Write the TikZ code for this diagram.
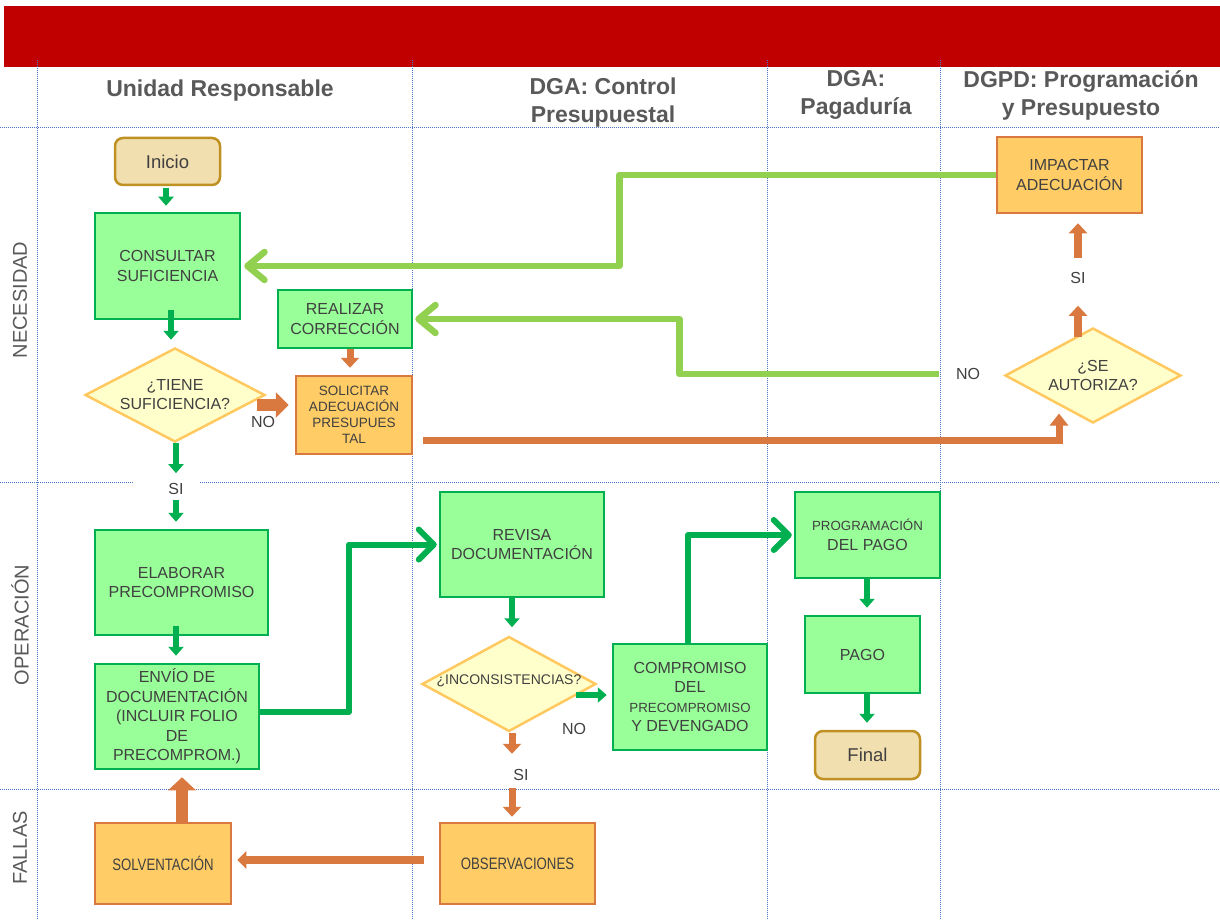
\documentclass[tikz,border=0pt]{standalone}
\usepackage{fontspec}
\setmainfont{Liberation Sans}
\usetikzlibrary{arrows.meta,shapes.geometric}
\definecolor{redbar}{HTML}{C00000}
\definecolor{gridblue}{HTML}{4A74C0}
\definecolor{gfill}{HTML}{99FF99}
\definecolor{gborder}{HTML}{00B050}
\definecolor{ofill}{HTML}{FFCC66}
\definecolor{oborder}{HTML}{D9793F}
\definecolor{dfill}{HTML}{FFFFCC}
\definecolor{dborder}{HTML}{FFC960}
\definecolor{tfill}{HTML}{F2DFB0}
\definecolor{tborder}{HTML}{BF9022}
\definecolor{lgreen}{HTML}{92D050}
\definecolor{tgray}{HTML}{404040}
\definecolor{hgray}{HTML}{595959}
\begin{document}
\begin{tikzpicture}[x=1pt,y=-1pt,
  bx/.style={draw, line width=2.5pt, align=center, text=tgray, inner sep=2pt},
  gbx/.style={bx, draw=gborder, fill=gfill},
  obx/.style={bx, draw=oborder, fill=ofill},
  tbx/.style={bx, draw=tborder, fill=tfill, rounded corners=8pt},
  dec/.style={diamond, draw=dborder, fill=dfill, line width=2.5pt, inner sep=0pt},
  dtxt/.style={align=center, text=tgray, inner sep=0pt},
  f15/.style={font=\fontsize{16}{19.5}\selectfont},
  garr/.style={draw=gborder, line width=6pt, -{Triangle[width=15pt,length=9pt]}},
  gbig/.style={draw=gborder, line width=6pt, line join=round, -{Straight Barb[round,length=15pt,width=30pt]}},
  lbig/.style={draw=lgreen, line width=6.5pt, line join=round, -{Straight Barb[round,length=17pt,width=28pt]}},
  oarr/.style={draw=oborder, line width=7pt, -{Triangle[width=18pt,length=10pt]}},
  lbl/.style={text=tgray, inner sep=0pt, font=\fontsize{16}{18}\selectfont},
  hdr/.style={text=hgray, align=center, font=\fontsize{23}{28}\selectfont\bfseries},
  lane/.style={text=hgray, rotate=90, font=\fontsize{20}{22}\selectfont},
  lanesep/.style={draw=gridblue, line width=0.9pt, dash pattern=on 1pt off 1pt}]
\useasboundingbox (0,0) rectangle (1220,920);
\fill[white] (0,0) rectangle (1220,920);
% red header bar
\fill[redbar] (4,6) rectangle (1220,67);
% lane separators
\draw[lanesep] (37,60) -- (37,920);
\draw[lanesep] (412,60) -- (412,920);
\draw[lanesep] (767,60) -- (767,920);
\draw[lanesep] (940,60) -- (940,920);
\draw[lanesep] (0,127) -- (1220,127);
\draw[lanesep] (0,482) -- (133,482);
\draw[lanesep] (200,482) -- (1220,482);
\draw[lanesep] (0,789) -- (1220,789);
% headers
\node[hdr] (h1) at (220,91) {Unidad Responsable};
\node[hdr] (h2) at (603,103) {DGA: Control\\Presupuestal};
\node[hdr] (h3) at (856,95) {DGA:\\Pagaduría};
\node[hdr] (h4) at (1081,95) {DGPD: Programación\\y Presupuesto};
\node[lane] (l1) at (20,300) {NECESIDAD};
\node[lane] (l2) at (20,625) {OPERACIÓN};
\node[lane] (l3) at (20,848) {FALLAS};
% nodes
\node[tbx, minimum width=105pt, minimum height=47pt, font=\fontsize{18.5}{20}\selectfont] (inicio) at (167.5,161.5) {Inicio};
\node[gbx, f15, minimum width=145pt, minimum height=106pt] (cons) at (167.5,266) {CONSULTAR\\SUFICIENCIA};
\node[dec, minimum width=180pt, minimum height=94pt,
  label={[dtxt, font=\fontsize{16}{19}\selectfont]center:{¿TIENE\\SUFICIENCIA?}}] (tiene) at (175,395) {};
\node[gbx, f15, minimum width=134pt, minimum height=58pt] (realizar) at (345,319) {REALIZAR\\CORRECCIÓN};
\node[obx, minimum width=116pt, minimum height=78pt, font=\fontsize{13.5}{16}\selectfont] (solic) at (354,415) {SOLICITAR\\ADECUACIÓN\\PRESUPUES\\TAL};
\node[obx, f15, minimum width=145pt, minimum height=76pt] (impactar) at (1069.5,175) {IMPACTAR\\ADECUACIÓN};
\node[dec, minimum width=176pt, minimum height=95pt,
  label={[dtxt, font=\fontsize{16}{19}\selectfont]center:{¿SE\\AUTORIZA?}}] (autoriza) at (1093,375.5) {};
\node[gbx, f15, minimum width=173pt, minimum height=105pt] (elab) at (181.5,582.5) {ELABORAR\\PRECOMPROMISO};
\node[gbx, f15, minimum width=164pt, minimum height=105pt] (envio) at (177,716.5) {ENVÍO DE\\DOCUMENTACIÓN\\(INCLUIR FOLIO\\DE\\PRECOMPROM.)};
\node[gbx, f15, minimum width=164pt, minimum height=105pt] (revisa) at (522,544.5) {REVISA\\DOCUMENTACIÓN};
\node[dec, minimum width=174pt, minimum height=95pt,
  label={[dtxt, font=\fontsize{14}{16}\selectfont, yshift=3pt]center:{¿INCONSISTENCIAS?}}] (incons) at (509,684) {};
\node[gbx, f15, minimum width=154pt, minimum height=106pt] (comp) at (690,697) {COMPROMISO\\DEL\\{\fontsize{13.3}{19}\selectfont PRECOMPROMISO}\\Y DEVENGADO};
\node[gbx, f15, minimum width=145pt, minimum height=86pt] (prog) at (867.5,535) {{\fontsize{13.3}{19}\selectfont PROGRAMACIÓN}\\DEL PAGO};
\node[gbx, f15, minimum width=115pt, minimum height=77pt] (pago) at (862.5,654.5) {PAGO};
\node[tbx, minimum width=105pt, minimum height=48pt, font=\fontsize{18.5}{20}\selectfont] (final) at (867.5,755) {Final};
\node[obx, minimum width=136pt, minimum height=81pt, font=\fontsize{16.5}{19}\selectfont] (solv) at (163,863.5) {\scalebox{0.8}[1]{SOLVENTACIÓN}};
\node[obx, minimum width=155pt, minimum height=81pt, font=\fontsize{16.5}{19}\selectfont] (obs) at (517.5,863.5) {\scalebox{0.8}[1]{OBSERVACIONES}};
% labels
\node[lbl] (si1) at (176,489) {SI};
\node[lbl] (si2) at (521,775) {SI};
\node[lbl] (si3) at (1078,278) {SI};
\node[lbl] (no1) at (263,422) {NO};
\node[lbl] (no2) at (574,729) {NO};
\node[lbl] (no3) at (968,374) {NO};
% green connectors
\draw[garr, shorten <=2pt, shorten >=6pt] ([xshift=-1.5pt]inicio.south) -- ([xshift=-1.5pt]cons.north);
\draw[garr, shorten >=7pt] ([xshift=3.5pt,yshift=10pt]cons.south) -- ([xshift=-4pt]tiene.north);
\draw[garr, shorten >=10pt] ([xshift=1pt]tiene.south) -- (si1.north);
\draw[garr, shorten <=5pt, shorten >=7pt] (si1.south) -- ([xshift=-5.5pt]elab.north);
\draw[garr, shorten >=7pt] ([xshift=-5.5pt,yshift=10pt]elab.south) -- ([xshift=-1pt]envio.north);
\draw[gbig, shorten >=2pt] ([yshift=4.5pt]envio.east) -| ([xshift=-90pt]revisa.west) -- (revisa.west);
\draw[garr, shorten >=8pt] ([xshift=-10pt]revisa.south) -- ([xshift=3pt]incons.north);
\draw[garr, shorten >=5pt] ([xshift=-21pt,yshift=-11pt]incons.east) -- ([yshift=2pt]comp.west);
\draw[gbig, shorten >=2pt] ([xshift=-2pt]comp.north) |- (prog.west);
\draw[garr, shorten >=7pt] ([xshift=-0.5pt]prog.south) -- ([xshift=4.5pt]pago.north);
\draw[garr, shorten >=7pt] ([xshift=4.5pt]pago.south) -- ([xshift=-0.5pt]final.north);
% light green connectors
\draw[lbig, shorten <=65pt, shorten >=2pt] ([yshift=1.5pt]autoriza.west) -| ([xshift=266pt]realizar.east) -- (realizar.east);
\draw[lbig, shorten >=3pt] (impactar.west) -| ([xshift=378pt]cons.east) -- (cons.east);
% orange connectors
\draw[oarr, line width=12pt, -{Triangle[width=25pt,length=13pt]}, shorten >=6pt] ([xshift=-9pt,yshift=-10pt]tiene.east) -- ([yshift=10pt]solic.west);
\draw[oarr, shorten >=7pt] ([xshift=5pt]realizar.south) -- ([xshift=-4pt]solic.north);
\draw[oarr, -{Triangle[width=18pt,length=12pt]}] ([xshift=10pt,yshift=-25pt]solic.east) -| ([xshift=-34pt,yshift=-38pt]autoriza.center);
\draw[oarr, line width=8pt] ([xshift=-15pt,yshift=-10pt]autoriza.north) -- ++(0,-31);
\draw[oarr, line width=8pt, shorten <=14pt, shorten >=9pt] (si3.north) -- ([xshift=8.5pt]impactar.south);
\draw[oarr] ([xshift=3pt]incons.south) -- ++(0,21);
\draw[oarr, shorten >=5pt] ([xshift=-5.5pt,yshift=34pt]obs.north) -- ([xshift=-5.5pt]obs.north);
\draw[oarr, line width=8pt, -{Triangle[width=17pt,length=9pt]}, shorten <=15pt, shorten >=5pt] ([yshift=3.5pt]obs.west) -- ([yshift=3.5pt]solv.east);
\draw[oarr, line width=12pt, -{Triangle[width=27pt,length=13pt]}, shorten >=7pt] ([xshift=19pt]solv.north) -- ([xshift=5pt]envio.south);
\end{tikzpicture}
\end{document}
